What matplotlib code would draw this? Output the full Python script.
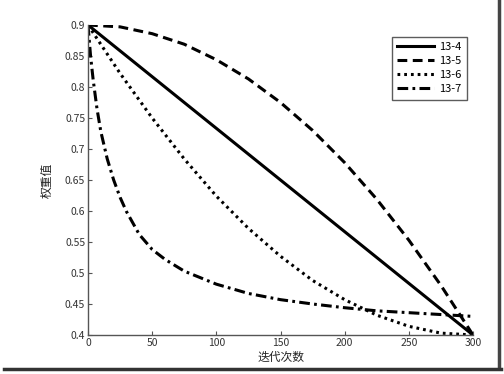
import matplotlib.pyplot as plt
from matplotlib.lines import Line2D

plt.rcParams['font.family'] = ['Noto Sans CJK SC', 'DejaVu Sans']

# 13-4: linear decrease
x_134 = [0, 300]
w_134 = [0.9, 0.4]

# 13-5: concave decrease
x_135 = [0, 25, 50, 75, 100, 125, 150, 175, 200, 225, 250, 275, 300]
w_135 = [0.900, 0.897, 0.886, 0.869, 0.844, 0.813, 0.775, 0.730, 0.678, 0.619, 0.553, 0.480, 0.400]

# 13-6: convex decrease
x_136 = [0, 25, 50, 75, 100, 125, 150, 175, 200, 225, 250, 275, 300]
w_136 = [0.900, 0.822, 0.750, 0.684, 0.624, 0.572, 0.527, 0.488, 0.457, 0.432, 0.414, 0.403, 0.400]

# 13-7: fast drop then flat
x_137 = [0, 2, 4, 7, 10, 15, 20, 25, 30, 40, 50, 60, 75, 100, 125, 150, 175, 200, 225, 250, 275, 300]
w_137 = [0.900, 0.850, 0.812, 0.765, 0.728, 0.684, 0.650, 0.622, 0.599, 0.562, 0.538, 0.522, 0.503,
         0.482, 0.467, 0.457, 0.450, 0.444, 0.439, 0.436, 0.433, 0.430]

labels = ['13-4', '13-5', '13-6', '13-7']

fig = plt.figure(figsize=(5.04, 3.74), dpi=100)
ax = fig.add_axes([88 / 504, 39 / 374, 385 / 504, 310 / 374])

lw = 2.2
ax.plot(x_134, w_134, color='black', lw=lw, label=labels[0])
ax.plot(x_135, w_135, color='black', lw=lw, dashes=(3.2, 1.8), label=labels[1])
ax.plot(x_136, w_136, color='black', lw=lw, dashes=(0.9, 1.3), label=labels[2])
ax.plot(x_137, w_137, color='black', lw=lw, dashes=(3.5, 1.4, 0.9, 1.4), label=labels[3])

ax.set_xlim(0, 300)
ax.set_ylim(0.4, 0.9)
ax.set_xticks([0, 50, 100, 150, 200, 250, 300])
ax.set_yticks([0.4, 0.45, 0.5, 0.55, 0.6, 0.65, 0.7, 0.75, 0.8, 0.85, 0.9])
ax.set_yticklabels(['0.4', '0.45', '0.5', '0.55', '0.6', '0.65', '0.7', '0.75', '0.8', '0.85', '0.9'])

ax.spines['top'].set_visible(False)
ax.spines['right'].set_visible(False)
for s in ['left', 'bottom']:
    ax.spines[s].set_color('#555555')
    ax.spines[s].set_linewidth(1.0)
ax.tick_params(direction='in', length=3, width=0.8, color='#555555',
               labelsize=7.5, labelcolor='#333333', pad=2)

ax.set_xlabel('迭代次数', fontsize=8.5, color='#222222', labelpad=2)
ax.set_ylabel('权重值', fontsize=8.5, color='#222222', labelpad=8)

leg = ax.legend(loc='upper right', bbox_to_anchor=(1.0, 0.98), fontsize=8,
                frameon=True, fancybox=False, handlelength=3.3,
                borderpad=0.5, labelspacing=0.35, handletextpad=0.5)
leg.get_frame().set_edgecolor('#333333')
leg.get_frame().set_linewidth(1.0)

# photo frame shadow
fig.add_artist(Line2D([499 / 504, 499 / 504], [6 / 374, 1.0], transform=fig.transFigure,
                      color='#444444', lw=2.5))
fig.add_artist(Line2D([4 / 504, 501 / 504], [5 / 374, 5 / 374], transform=fig.transFigure,
                      color='#333333', lw=2.5))

fig.savefig('out.png', dpi=100)
